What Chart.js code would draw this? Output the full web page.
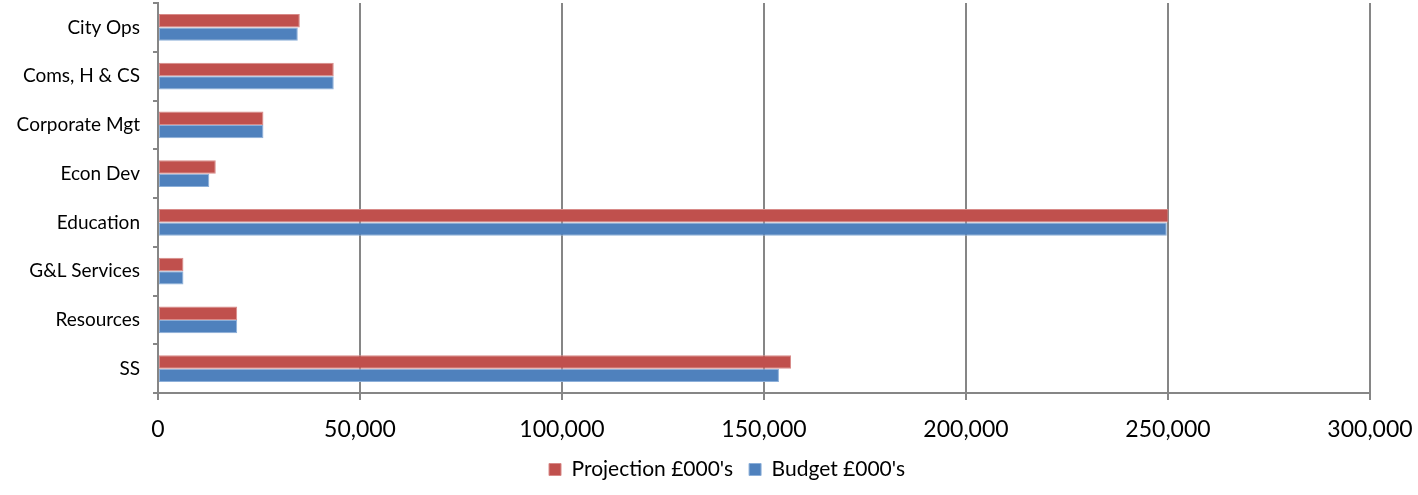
<!DOCTYPE html>
<html>
<head>
<meta charset="utf-8">
<script src="https://cdn.jsdelivr.net/npm/chart.js@4"></script>
<style>
  html, body { margin: 0; padding: 0; background: #fff; }
  #wrap { width: 1418px; height: 495px; }
</style>
</head>
<body>
<div id="wrap"><canvas id="budget-chart" width="1418" height="495"></canvas></div>
<script>
var departments = ["City Ops", "Coms, H & CS", "Corporate Mgt", "Econ Dev", "Education", "G&L Services", "Resources", "SS"];
var projection = [35100, 43500, 26100, 14300, 250100, 6300, 19600, 156700];
var budget = [34600, 43500, 26100, 12700, 249700, 6300, 19600, 153700];
var xTicks = [0, 50000, 100000, 150000, 200000, 250000, 300000];

var font = "Lato, 'Open Sans', sans-serif";

// nudge the legend a little right, like the original
var legendShift = {
  id: "legendShift",
  afterLayout: function (chart) {
    chart.legend.left += 36;
  }
};

new Chart("budget-chart", {
  type: "bar",
  data: {
    labels: departments,
    datasets: [{
      label: "Projection £000's",
      data: projection,
      backgroundColor: "#C0504D",
      borderColor: "#D88A88",
      borderWidth: 1,
      borderSkipped: false
    }, {
      label: "Budget £000's",
      data: budget,
      backgroundColor: "#4F81BD",
      borderColor: "#8CAFD9",
      borderWidth: 1,
      borderSkipped: false
    }]
  },
  plugins: [legendShift],
  options: {
    indexAxis: "y",
    responsive: false,
    animation: false,
    datasets: {
      bar: { barPercentage: 1, categoryPercentage: 0.55 }
    },
    layout: { padding: { left: 0, right: 0, top: 3, bottom: 5 } },
    plugins: {
      legend: {
        position: "bottom",
        labels: {
          color: "#000",
          font: { family: font, size: 21 },
          boxWidth: 12,
          boxHeight: 12,
          padding: 16
        }
      },
      tooltip: { enabled: false }
    },
    scales: {
      x: {
        min: 0,
        max: 300000,
        afterBuildTicks: function (axis) {
          axis.ticks = xTicks.map(function (v) { return { value: v }; });
        },
        afterFit: function (axis) {
          axis.height = 50;
          axis.paddingLeft = 0;
          axis.paddingRight = 48;
        },
        border: { color: "#868686", width: 2 },
        grid: {
          color: "#868686",
          lineWidth: 2,
          drawTicks: true,
          tickLength: 7
        },
        ticks: {
          color: "#000",
          padding: 16,
          maxRotation: 0,
          font: { family: font, size: 23 },
          callback: function (v) { return v.toLocaleString("en-GB"); }
        }
      },
      y: {
        afterFit: function (axis) {
          axis.width = 158;
          axis.paddingTop = 0;
          axis.paddingBottom = 0;
        },
        border: { color: "#868686", width: 2 },
        grid: {
          drawOnChartArea: false,
          color: "#868686",
          lineWidth: 2,
          tickLength: 5
        },
        ticks: {
          color: "#000",
          padding: 13,
          font: { family: font, size: 19 }
        }
      }
    }
  }
});
</script>
</body>
</html>
